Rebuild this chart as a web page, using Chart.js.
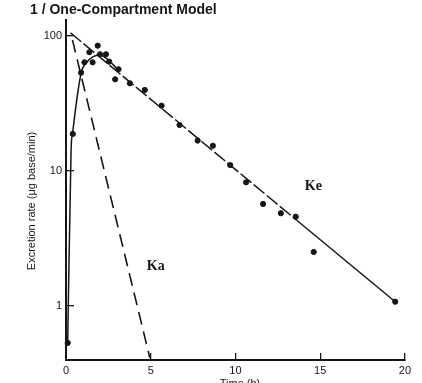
<!DOCTYPE html>
<html>
<head>
<meta charset="utf-8">
<script src="https://cdn.jsdelivr.net/npm/chart.js@4.4.1/dist/chart.umd.min.js"></script>
<style>
  html, body { margin: 0; padding: 0; background: #fff; }
  #wrap { width: 422px; height: 383px; position: relative; }
</style>
</head>
<body>
<div id="wrap"><canvas id="myChart"></canvas></div>
<script>
// measured excretion rates (ug base/min) vs time (h)
const timeH = [0.1, 0.4, 0.89, 1.09, 1.38, 1.57, 1.87, 2.01, 2.36, 2.55, 2.9, 3.1, 3.77, 4.65, 5.64, 6.7, 7.77, 8.67, 9.69, 10.63, 11.63, 12.68, 13.56, 14.62, 19.43];
const rate = [0.53, 18.7, 53.2, 63.5, 75.4, 63.5, 84.3, 72.8, 72.8, 64.2, 47.5, 56.4, 44.4, 39.6, 30.3, 21.8, 16.7, 15.3, 11.0, 8.2, 5.67, 4.84, 4.56, 2.5, 1.07];

// elimination line (Ke), dashed part then solid part
const keDashT = [0.26, 13.6];
const keDashY = [105, 4.31];
const keSolidT = [13.6, 19.43];
const keSolidY = [4.31, 1.07];

// absorption residual line (Ka)
const kaT = [0.38, 4.95];
const kaY = [93, 0.41];

// fitted curve, rising part
const fitT = [0.1, 0.3, 0.4, 0.89, 1.2, 1.6, 2.0, 2.5, 3.0];
const fitY = [0.53, 14.2, 19.5, 52.7, 63, 70, 72, 66, 57];

const xTicks = [0, 5, 10, 15, 20];
const yTicks = [1, 10, 100];
const yTickLabels = ["1", "10", "100"];

const ink = "#161616";

function pts(xs, ys) {
  return xs.map((x, i) => ({ x: x, y: ys[i] }));
}

// titles and curve names
const textPlugin = {
  id: "texts",
  afterDraw(chart) {
    const ctx = chart.ctx;
    const xs = chart.scales.x;
    const ys = chart.scales.y;
    ctx.save();
    ctx.fillStyle = ink;

    ctx.font = "bold 14px 'Liberation Sans'";
    ctx.textAlign = "left";
    ctx.textBaseline = "middle";
    ctx.fillText("1 / One-Compartment Model", 30, 10);

    ctx.font = "bold 14px 'Liberation Serif'";
    ctx.textAlign = "center";
    ctx.fillText("Ke", xs.getPixelForValue(14.6), ys.getPixelForValue(7.7));
    ctx.fillText("Ka", xs.getPixelForValue(5.3), ys.getPixelForValue(1.94));

    ctx.font = "11px 'Liberation Sans'";
    ctx.textBaseline = "top";
    ctx.fillText("Time (h)", 240, 378);

    ctx.translate(32, 201);
    ctx.rotate(-Math.PI / 2);
    ctx.textBaseline = "middle";
    ctx.fillText("Excretion rate (\u03bcg base/min)", 0, 0);
    ctx.restore();
  },
};

const data = {
  datasets: [
    {
      label: "observed",
      type: "scatter",
      data: pts(timeH, rate),
      backgroundColor: ink,
      borderColor: ink,
      pointRadius: 2.6,
      showLine: false,
    },
    {
      label: "Ke",
      type: "line",
      data: pts(keDashT, keDashY),
      borderColor: ink,
      borderWidth: 1.5,
      borderDash: [14, 3],
      pointRadius: 0,
    },
    {
      label: "Ke solid",
      type: "line",
      data: pts(keSolidT, keSolidY),
      borderColor: ink,
      borderWidth: 1.5,
      pointRadius: 0,
    },
    {
      label: "Ka",
      type: "line",
      data: pts(kaT, kaY),
      borderColor: ink,
      borderWidth: 1.6,
      borderDash: [13, 7],
      pointRadius: 0,
    },
    {
      label: "fit",
      type: "line",
      data: pts(fitT, fitY),
      borderColor: ink,
      borderWidth: 1.5,
      pointRadius: 0,
      cubicInterpolationMode: "monotone",
    },
  ],
};

const config = {
  type: "scatter",
  data: data,
  options: {
    responsive: true,
    maintainAspectRatio: false,
    animation: false,
    clip: false,
    layout: { padding: { top: 20, right: 15, left: 0, bottom: 0 } },
    plugins: {
      legend: { display: false },
      tooltip: { enabled: false },
    },
    scales: {
      x: {
        type: "linear",
        min: 0,
        max: 20,
        afterBuildTicks: (s) => { s.ticks = xTicks.map((v) => ({ value: v })); },
        afterFit: (s) => { s.height = 23; },
        ticks: {
          color: ink,
          padding: 11,
          font: { family: "Liberation Sans", size: 11 },
        },
        grid: { drawOnChartArea: false, tickLength: -7, color: ink, lineWidth: 1.3 },
        border: { color: ink, width: 2 },
      },
      y: {
        type: "logarithmic",
        min: 0.396,
        max: 130.6,
        afterBuildTicks: (s) => { s.ticks = yTicks.map((v) => ({ value: v })); },
        afterFit: (s) => { s.width = 66; },
        ticks: {
          color: ink,
          padding: 12,
          font: { family: "Liberation Sans", size: 11 },
          callback: (v) => yTickLabels[yTicks.indexOf(v)],
        },
        grid: { drawOnChartArea: false, tickLength: -8, color: ink, lineWidth: 1.3 },
        border: { color: ink, width: 2 },
      },
    },
  },
  plugins: [textPlugin],
};

const chart = new Chart(document.getElementById("myChart"), config);
</script>
</body>
</html>
